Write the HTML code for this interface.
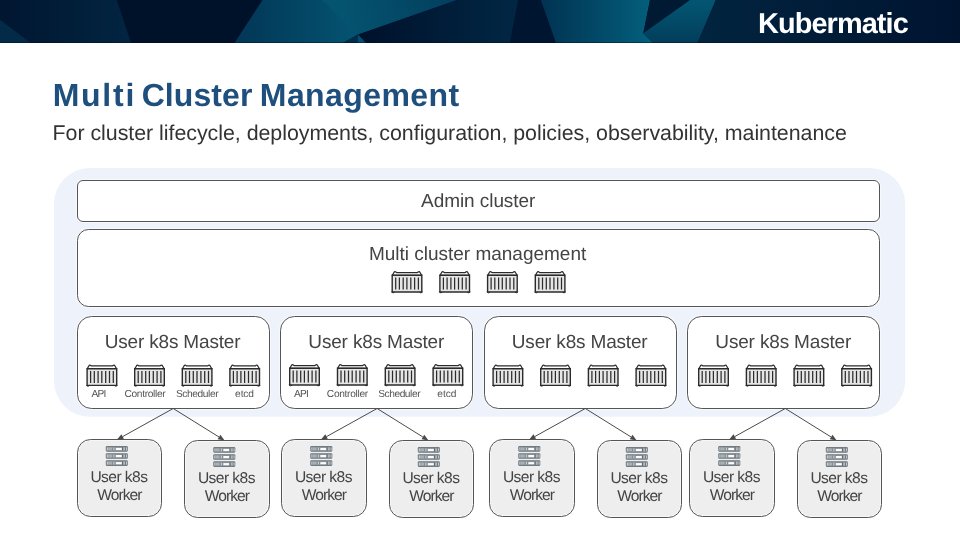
<!DOCTYPE html>
<html><head><meta charset="utf-8"><style>
html,body{margin:0;padding:0;background:#fff;}
body{width:960px;height:540px;position:relative;overflow:hidden;font-family:"Liberation Sans", sans-serif;}
.hdr{position:absolute;left:0;top:0;}
.dg{position:absolute;left:0;top:0;will-change:transform;text-rendering:geometricPrecision;}
</style></head><body>
<svg class="hdr" width="960" height="43" viewBox="0 0 960 43">
 <defs>
  <linearGradient id="gA" x1="0" x2="1" y1="0" y2="0"><stop offset="0" stop-color="#011630"/><stop offset="1" stop-color="#022541"/></linearGradient>
  <linearGradient id="gT1" gradientUnits="userSpaceOnUse" x1="240" y1="0" x2="350" y2="0"><stop offset="0" stop-color="#023757"/><stop offset="1" stop-color="#04526f"/></linearGradient>
  <linearGradient id="gT2" gradientUnits="userSpaceOnUse" x1="340" y1="20" x2="450" y2="0"><stop offset="0" stop-color="#045470"/><stop offset="1" stop-color="#03405f"/></linearGradient>
  <linearGradient id="gN" x1="0" x2="1" y1="0" y2="0"><stop offset="0" stop-color="#00112b"/><stop offset="1" stop-color="#012744"/></linearGradient>
  <linearGradient id="gT3" x1="0" x2="1" y1="0" y2="0"><stop offset="0" stop-color="#013252"/><stop offset="1" stop-color="#03607c"/></linearGradient>
  <linearGradient id="gT4" gradientUnits="userSpaceOnUse" x1="690" y1="5" x2="690" y2="42"><stop offset="0" stop-color="#035470"/><stop offset="1" stop-color="#023e5b"/></linearGradient>
  <linearGradient id="gR" x1="0" x2="1" y1="0" y2="0"><stop offset="0" stop-color="#01243f"/><stop offset="1" stop-color="#001430"/></linearGradient>
 </defs>
 <rect width="960" height="43" fill="#00112a"/>
 <polygon points="0,0 116.7,0 131,43 0,43" fill="url(#gA)"/>
 <polygon points="0,19.7 31,43 0,43" fill="#032a46"/>
 <polygon points="262.5,0 456.7,0 358,34.5 343,43 234.5,43" fill="url(#gT1)"/>
 <polygon points="322,0 456.7,0 358,34.5" fill="url(#gT2)"/>
 <polygon points="456.7,0 518.3,0 510,43 366,43 358,34.5" fill="url(#gN)"/>
 <polygon points="343,43 358,34.5 358,43" fill="#012d4b"/>
 <polygon points="358,34.5 366,43 358,43" fill="#03506e"/>
 <polygon points="518.3,0 540.8,0 556,43 510,43" fill="#00152f"/>
 <polygon points="540.8,0 650,0 643.3,33.3 653,43 556,43" fill="url(#gT3)"/>
 <polygon points="650,0 690,0 643.3,33.3" fill="#001a33"/>
 <polygon points="690,0 715.8,0 697.5,43 653,43 643.3,33.3" fill="url(#gT4)"/>
 <polygon points="715.8,0 960,0 960,43 697.5,43" fill="url(#gR)"/>
 <rect y="42" width="960" height="0.7" fill="#000c1f" opacity="0.6"/>
</svg>

<svg class="dg" width="960" height="540" viewBox="0 0 960 540" font-family='"Liberation Sans", sans-serif'>
<defs>
 <symbol id="ct" viewBox="0 0 32 23" width="32" height="23" overflow="visible">
  <path d="M1.3 4.7 L3.1 1.7 Q3.8 0.6 4.9 1.4 L5.5 1.9 L26.5 1.9 L27.1 1.4 Q28.2 0.6 28.9 1.7 L30.7 4.7 Z" fill="#fff" stroke="#2b2b2b" stroke-width="1.25" stroke-linejoin="round"/>
  <path d="M1.2 4.7 H30.8 V21.4 H1.2 Z" fill="#e6e6e6" stroke="#2b2b2b" stroke-width="1.4"/>
  <path d="M0.7 21 Q0.7 22.2 2.3 22.2 L3.6 21.5 M31.3 21 Q31.3 22.2 29.7 22.2 L28.4 21.5" fill="none" stroke="#2b2b2b" stroke-width="1"/>
  <g stroke="#2b2b2b" stroke-width="1.25">
   <line x1="4.7" y1="6.9" x2="4.7" y2="19"/><line x1="8.4" y1="6.9" x2="8.4" y2="19"/>
   <line x1="12.2" y1="6.9" x2="12.2" y2="19"/><line x1="15.9" y1="6.9" x2="15.9" y2="19"/>
   <line x1="19.8" y1="6.9" x2="19.8" y2="19"/><line x1="23.6" y1="6.9" x2="23.6" y2="19"/>
   <line x1="27.4" y1="6.9" x2="27.4" y2="19"/>
  </g>
 </symbol>
 <symbol id="bar" viewBox="0 0 22 5.6" width="22" height="5.6" overflow="visible">
  <rect x="0" y="0" width="22" height="5.6" rx="1.1" fill="#6c757c"/>
  <rect x="0.3" y="0.6" width="21.4" height="4.4" rx="0.6" fill="#858e95"/>
  <rect x="1.2" y="1.4" width="0.8" height="2.8" fill="#d5d9dc"/>
  <rect x="2.4" y="1.4" width="3.8" height="2.8" fill="#aab1b6"/>
  <rect x="7.6" y="1.4" width="0.9" height="2.8" fill="#d5d9dc"/>
  <rect x="10" y="1.8" width="6" height="2.2" fill="#fbfbfb"/>
  <rect x="16.4" y="1.2" width="0.9" height="3.2" fill="#5a636a"/>
  <rect x="17.5" y="1.4" width="2" height="2.8" fill="#b4babe"/>
  <rect x="19.6" y="1.2" width="0.6" height="3.2" fill="#5a636a"/>
  <rect x="20.3" y="1.4" width="0.8" height="2.8" fill="#d5d9dc"/>
 </symbol>
 <symbol id="sv" viewBox="0 0 22 20" width="22" height="20" overflow="visible">
  <use href="#bar" x="0" y="0"/>
  <use href="#bar" x="0" y="7.1"/>
  <use href="#bar" x="0" y="14.2"/>
 </symbol>
</defs>

<rect x="54" y="168" width="851.2" height="248.7" rx="36" fill="#edf2fb"/>
<rect x="77.5" y="180.5" width="802.0" height="41.0" rx="5.5" fill="#fff"/>
<rect x="77.5" y="180.5" width="802.0" height="41.0" rx="5.5" fill="none" stroke="#fff" stroke-opacity="0.55" stroke-width="3"/>
<rect x="77.5" y="180.5" width="802.0" height="41.0" rx="5.5" fill="none" stroke="#555" stroke-width="1.0"/>
<rect x="77.5" y="229.5" width="802.0" height="77.0" rx="11" fill="#fff"/>
<rect x="77.5" y="229.5" width="802.0" height="77.0" rx="11" fill="none" stroke="#fff" stroke-opacity="0.55" stroke-width="3"/>
<rect x="77.5" y="229.5" width="802.0" height="77.0" rx="11" fill="none" stroke="#555" stroke-width="1.0"/>
<rect x="77.5" y="316.5" width="192.0" height="92.0" rx="14" fill="#fff"/>
<rect x="77.5" y="316.5" width="192.0" height="92.0" rx="14" fill="none" stroke="#fff" stroke-opacity="0.55" stroke-width="3"/>
<rect x="77.5" y="316.5" width="192.0" height="92.0" rx="14" fill="none" stroke="#555" stroke-width="1.0"/>
<rect x="280.5" y="316.5" width="192.0" height="92.0" rx="14" fill="#fff"/>
<rect x="280.5" y="316.5" width="192.0" height="92.0" rx="14" fill="none" stroke="#fff" stroke-opacity="0.55" stroke-width="3"/>
<rect x="280.5" y="316.5" width="192.0" height="92.0" rx="14" fill="none" stroke="#555" stroke-width="1.0"/>
<rect x="484.5" y="316.5" width="192.0" height="92.0" rx="14" fill="#fff"/>
<rect x="484.5" y="316.5" width="192.0" height="92.0" rx="14" fill="none" stroke="#fff" stroke-opacity="0.55" stroke-width="3"/>
<rect x="484.5" y="316.5" width="192.0" height="92.0" rx="14" fill="none" stroke="#555" stroke-width="1.0"/>
<rect x="687.5" y="316.5" width="192.0" height="92.0" rx="14" fill="#fff"/>
<rect x="687.5" y="316.5" width="192.0" height="92.0" rx="14" fill="none" stroke="#fff" stroke-opacity="0.55" stroke-width="3"/>
<rect x="687.5" y="316.5" width="192.0" height="92.0" rx="14" fill="none" stroke="#555" stroke-width="1.0"/>
<rect x="77.5" y="439.5" width="84.0" height="77.0" rx="13" fill="#eeeeee"/>
<rect x="77.5" y="439.5" width="84.0" height="77.0" rx="13" fill="none" stroke="#fff" stroke-opacity="0.55" stroke-width="3"/>
<rect x="77.5" y="439.5" width="84.0" height="77.0" rx="13" fill="none" stroke="#555" stroke-width="1.0"/>
<use href="#sv" x="105.8" y="446.1"/>
<rect x="184.5" y="440.5" width="85.0" height="77.0" rx="13" fill="#eeeeee"/>
<rect x="184.5" y="440.5" width="85.0" height="77.0" rx="13" fill="none" stroke="#fff" stroke-opacity="0.55" stroke-width="3"/>
<rect x="184.5" y="440.5" width="85.0" height="77.0" rx="13" fill="none" stroke="#555" stroke-width="1.0"/>
<use href="#sv" x="213.3" y="447.1"/>
<rect x="281.5" y="439.5" width="85.0" height="77.0" rx="13" fill="#eeeeee"/>
<rect x="281.5" y="439.5" width="85.0" height="77.0" rx="13" fill="none" stroke="#fff" stroke-opacity="0.55" stroke-width="3"/>
<rect x="281.5" y="439.5" width="85.0" height="77.0" rx="13" fill="none" stroke="#555" stroke-width="1.0"/>
<use href="#sv" x="310.3" y="446.1"/>
<rect x="389.5" y="440.5" width="84.0" height="77.0" rx="13" fill="#eeeeee"/>
<rect x="389.5" y="440.5" width="84.0" height="77.0" rx="13" fill="none" stroke="#fff" stroke-opacity="0.55" stroke-width="3"/>
<rect x="389.5" y="440.5" width="84.0" height="77.0" rx="13" fill="none" stroke="#555" stroke-width="1.0"/>
<use href="#sv" x="417.8" y="447.1"/>
<rect x="489.5" y="439.5" width="85.0" height="77.0" rx="13" fill="#eeeeee"/>
<rect x="489.5" y="439.5" width="85.0" height="77.0" rx="13" fill="none" stroke="#fff" stroke-opacity="0.55" stroke-width="3"/>
<rect x="489.5" y="439.5" width="85.0" height="77.0" rx="13" fill="none" stroke="#555" stroke-width="1.0"/>
<use href="#sv" x="518.3" y="446.1"/>
<rect x="597.5" y="440.5" width="84.0" height="77.0" rx="13" fill="#eeeeee"/>
<rect x="597.5" y="440.5" width="84.0" height="77.0" rx="13" fill="none" stroke="#fff" stroke-opacity="0.55" stroke-width="3"/>
<rect x="597.5" y="440.5" width="84.0" height="77.0" rx="13" fill="none" stroke="#555" stroke-width="1.0"/>
<use href="#sv" x="625.8" y="447.1"/>
<rect x="689.5" y="439.5" width="85.0" height="77.0" rx="13" fill="#eeeeee"/>
<rect x="689.5" y="439.5" width="85.0" height="77.0" rx="13" fill="none" stroke="#fff" stroke-opacity="0.55" stroke-width="3"/>
<rect x="689.5" y="439.5" width="85.0" height="77.0" rx="13" fill="none" stroke="#555" stroke-width="1.0"/>
<use href="#sv" x="718.3" y="446.1"/>
<rect x="797.5" y="440.5" width="84.0" height="77.0" rx="13" fill="#eeeeee"/>
<rect x="797.5" y="440.5" width="84.0" height="77.0" rx="13" fill="none" stroke="#fff" stroke-opacity="0.55" stroke-width="3"/>
<rect x="797.5" y="440.5" width="84.0" height="77.0" rx="13" fill="none" stroke="#555" stroke-width="1.0"/>
<use href="#sv" x="825.8" y="447.1"/>
<use href="#ct" x="391.0" y="270.6"/>
<use href="#ct" x="438.7" y="270.6"/>
<use href="#ct" x="486.4" y="270.6"/>
<use href="#ct" x="534.1" y="270.6"/>
<use href="#ct" x="85.9" y="364.0"/>
<use href="#ct" x="133.5" y="364.0"/>
<use href="#ct" x="181.1" y="364.0"/>
<use href="#ct" x="228.7" y="364.0"/>
<use href="#ct" x="288.5" y="363.6"/>
<use href="#ct" x="336.3" y="363.6"/>
<use href="#ct" x="384.1" y="363.6"/>
<use href="#ct" x="431.9" y="363.6"/>
<use href="#ct" x="491.9" y="364.0"/>
<use href="#ct" x="539.5" y="364.0"/>
<use href="#ct" x="587.2" y="364.0"/>
<use href="#ct" x="634.9" y="364.0"/>
<use href="#ct" x="697.5" y="364.0"/>
<use href="#ct" x="745.2" y="364.0"/>
<use href="#ct" x="792.9" y="364.0"/>
<use href="#ct" x="840.6" y="364.0"/>
<line x1="173.2" y1="408.5" x2="122.67" y2="436.59" stroke="#4a4a4a" stroke-width="1"/>
<polygon points="116.90,439.80 121.41,434.32 123.93,438.87" fill="#4a4a4a"/>
<line x1="173.2" y1="408.5" x2="219.00" y2="437.01" stroke="#4a4a4a" stroke-width="1"/>
<polygon points="224.60,440.50 217.62,439.22 220.37,434.80" fill="#4a4a4a"/>
<line x1="377.1" y1="408.5" x2="326.57" y2="436.59" stroke="#4a4a4a" stroke-width="1"/>
<polygon points="320.80,439.80 325.31,434.32 327.83,438.87" fill="#4a4a4a"/>
<line x1="377.1" y1="408.5" x2="422.90" y2="437.01" stroke="#4a4a4a" stroke-width="1"/>
<polygon points="428.50,440.50 421.52,439.22 424.27,434.80" fill="#4a4a4a"/>
<line x1="585.3" y1="408.5" x2="534.77" y2="436.59" stroke="#4a4a4a" stroke-width="1"/>
<polygon points="529.00,439.80 533.51,434.32 536.03,438.87" fill="#4a4a4a"/>
<line x1="585.3" y1="408.5" x2="631.10" y2="437.01" stroke="#4a4a4a" stroke-width="1"/>
<polygon points="636.70,440.50 629.72,439.22 632.47,434.80" fill="#4a4a4a"/>
<line x1="785.3" y1="408.5" x2="734.77" y2="436.59" stroke="#4a4a4a" stroke-width="1"/>
<polygon points="729.00,439.80 733.51,434.32 736.03,438.87" fill="#4a4a4a"/>
<line x1="785.3" y1="408.5" x2="831.10" y2="437.01" stroke="#4a4a4a" stroke-width="1"/>
<polygon points="836.70,440.50 829.72,439.22 832.47,434.80" fill="#4a4a4a"/>
<text x="758.04" y="33.00" font-size="28.9" fill="#fff" font-weight="bold" letter-spacing="-0.919">Kubermatic</text>
<text x="52.66" y="106.00" font-size="32" fill="#1e4f7d" font-weight="bold" letter-spacing="1.747">Multi</text>
<text x="141.64" y="106.00" font-size="32" fill="#1e4f7d" font-weight="bold" letter-spacing="0.096">Cluster</text>
<text x="259.87" y="106.00" font-size="32" fill="#1e4f7d" font-weight="bold" letter-spacing="0.398">Management</text>
<text x="52.51" y="140.00" font-size="21.4" fill="#333" font-weight="normal" letter-spacing="-0.035">For cluster lifecycle, deployments, configuration, policies, observability, maintenance</text>
<text x="421.12" y="207.00" font-size="19" fill="#444" font-weight="normal" letter-spacing="-0.073">Admin cluster</text>
<text x="368.96" y="260.00" font-size="19" fill="#444" font-weight="normal" letter-spacing="-0.012">Multi cluster management</text>
<text x="104.63" y="348.00" font-size="19" fill="#444" font-weight="normal" letter-spacing="-0.171">User k8s Master</text>
<text x="308.33" y="348.00" font-size="19" fill="#444" font-weight="normal" letter-spacing="-0.166">User k8s Master</text>
<text x="511.83" y="348.00" font-size="19" fill="#444" font-weight="normal" letter-spacing="-0.175">User k8s Master</text>
<text x="715.33" y="348.00" font-size="19" fill="#444" font-weight="normal" letter-spacing="-0.166">User k8s Master</text>
<text x="91.49" y="397.00" font-size="10.2" fill="#555" font-weight="normal" letter-spacing="-0.773">API</text>
<text x="124.50" y="397.00" font-size="10.2" fill="#555" font-weight="normal" letter-spacing="-0.334">Controller</text>
<text x="175.98" y="397.00" font-size="10.2" fill="#555" font-weight="normal" letter-spacing="-0.409">Scheduler</text>
<text x="235.10" y="397.00" font-size="10.2" fill="#555" font-weight="normal" letter-spacing="-0.132">etcd</text>
<text x="293.89" y="397.00" font-size="10.2" fill="#555" font-weight="normal" letter-spacing="-0.790">API</text>
<text x="326.84" y="397.00" font-size="10.2" fill="#555" font-weight="normal" letter-spacing="-0.309">Controller</text>
<text x="378.17" y="397.00" font-size="10.2" fill="#555" font-weight="normal" letter-spacing="-0.435">Scheduler</text>
<text x="437.32" y="397.00" font-size="10.2" fill="#555" font-weight="normal" letter-spacing="-0.074">etcd</text>
<text x="90.40" y="482.00" font-size="15.6" fill="#444" font-weight="normal" letter-spacing="-0.560">User k8s</text>
<text x="97.13" y="500.00" font-size="15.6" fill="#444" font-weight="normal" letter-spacing="-0.929">Worker</text>
<text x="197.90" y="483.00" font-size="15.6" fill="#444" font-weight="normal" letter-spacing="-0.560">User k8s</text>
<text x="204.65" y="501.00" font-size="15.6" fill="#444" font-weight="normal" letter-spacing="-0.911">Worker</text>
<text x="294.90" y="482.00" font-size="15.6" fill="#444" font-weight="normal" letter-spacing="-0.560">User k8s</text>
<text x="301.65" y="500.00" font-size="15.6" fill="#444" font-weight="normal" letter-spacing="-0.911">Worker</text>
<text x="402.40" y="483.00" font-size="15.6" fill="#444" font-weight="normal" letter-spacing="-0.560">User k8s</text>
<text x="409.13" y="501.00" font-size="15.6" fill="#444" font-weight="normal" letter-spacing="-0.929">Worker</text>
<text x="502.90" y="482.00" font-size="15.6" fill="#444" font-weight="normal" letter-spacing="-0.560">User k8s</text>
<text x="509.65" y="500.00" font-size="15.6" fill="#444" font-weight="normal" letter-spacing="-0.911">Worker</text>
<text x="610.40" y="483.00" font-size="15.6" fill="#444" font-weight="normal" letter-spacing="-0.560">User k8s</text>
<text x="617.13" y="501.00" font-size="15.6" fill="#444" font-weight="normal" letter-spacing="-0.929">Worker</text>
<text x="702.90" y="482.00" font-size="15.6" fill="#444" font-weight="normal" letter-spacing="-0.560">User k8s</text>
<text x="709.65" y="500.00" font-size="15.6" fill="#444" font-weight="normal" letter-spacing="-0.911">Worker</text>
<text x="810.40" y="483.00" font-size="15.6" fill="#444" font-weight="normal" letter-spacing="-0.560">User k8s</text>
<text x="817.13" y="501.00" font-size="15.6" fill="#444" font-weight="normal" letter-spacing="-0.929">Worker</text>
</svg>
</body></html>
